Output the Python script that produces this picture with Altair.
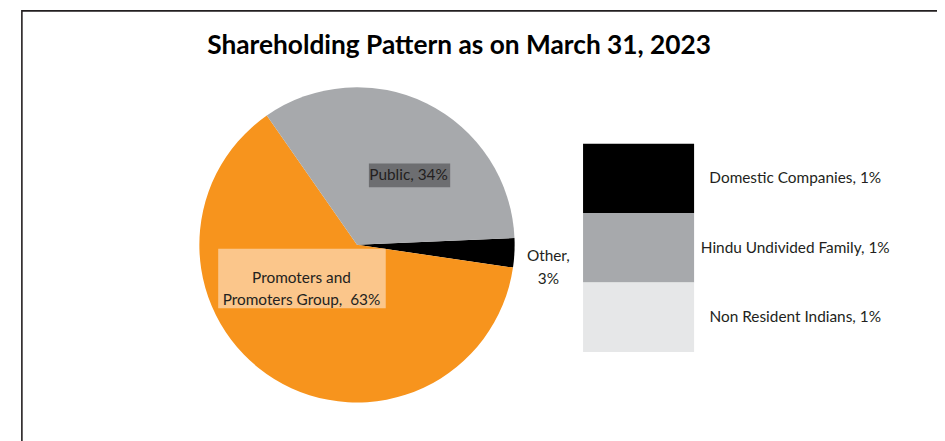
import math
import altair as alt
import pandas as pd

# ---------------- data ----------------
title_text = "Shareholding Pattern as on March 31, 2023"
pie_categories = ["Other", "Promoters and Promoters Group", "Public"]
pie_values = [3, 63, 34]
pie_colors = ["#000000", "#F7941D", "#A7A9AC"]

bar_categories = ["Domestic Companies", "Hindu Undivided Family", "Non Resident Indians"]
bar_values = [1, 1, 1]
bar_colors = ["#000000", "#A7A9AC", "#E6E7E8"]

# ---------------- layout helpers ----------------
W, H = 937, 433
MX, MY = 3, 8  # observed page offset


def px(x):
    return x - MX


def py(y):
    return y - MY


FONT = "Lato"
TXT = "#231F20"
LBL = 15.5

one = pd.DataFrame({"k": [0]})

# frame
frame = alt.Chart(one).mark_rect(fillOpacity=0, stroke="#231F20", strokeWidth=1.6).encode(
    x=alt.value(px(17)), x2=alt.value(W + 30), y=alt.value(1), y2=alt.value(H + 30)
)

# title
title = alt.Chart(pd.DataFrame({"t": [title_text]})).mark_text(
    font=FONT, fontSize=26.5, fontWeight="bold", color="#000000", align="center", baseline="middle"
).encode(x=alt.value(px(458)), y=alt.value(py(45)), text="t:N")

# pie
pie_df = pd.DataFrame({"category": pie_categories, "value": pie_values, "order": list(range(len(pie_values)))})
start = math.radians(87.5)
pie = alt.Chart(pie_df).mark_arc(radius=159).encode(
    theta=alt.Theta("value:Q", stack=True, scale=alt.Scale(range=[start, start + 2 * math.pi])),
    color=alt.Color("category:N", scale=alt.Scale(domain=pie_categories, range=pie_colors), legend=None),
    order=alt.Order("order:Q"),
    x=alt.value(px(355)),
    y=alt.value(py(245)),
)

# pie label boxes
public_box = alt.Chart(one).mark_rect(color="#6D6E71").encode(
    x=alt.value(px(367)), x2=alt.value(px(449)), y=alt.value(py(163)), y2=alt.value(py(187))
)
prom_box = alt.Chart(one).mark_rect(color="#FBC68B").encode(
    x=alt.value(px(215)), x2=alt.value(px(384)), y=alt.value(py(249)), y2=alt.value(py(309))
)

public_label = f"{pie_categories[2]}, {pie_values[2]}%"
prom_label = f"Promoters and\nPromoters Group, \u00a0{pie_values[1]}%"
other_label = f"{pie_categories[0]},\n{pie_values[0]}%"

lbl_public = alt.Chart(pd.DataFrame({"t": [public_label]})).mark_text(
    font=FONT, fontSize=LBL, color=TXT, align="center", baseline="middle"
).encode(x=alt.value(px(407)), y=alt.value(py(175)), text="t:N")

lbl_prom = alt.Chart(pd.DataFrame({"t": [prom_label]})).mark_text(
    font=FONT, fontSize=LBL, color=TXT, align="center", baseline="middle", lineBreak="\n", lineHeight=22
).encode(x=alt.value(px(299)), y=alt.value(py(279)), text="t:N")

lbl_other = alt.Chart(pd.DataFrame({"t": [other_label]})).mark_text(
    font=FONT, fontSize=LBL, color=TXT, align="center", baseline="middle", lineBreak="\n", lineHeight=24
).encode(x=alt.value(px(548)), y=alt.value(py(256)), text="t:N")

# stacked bar (bar-of-pie)
bar_df = pd.DataFrame({"category": bar_categories, "value": bar_values, "order": list(range(len(bar_values)))})
ysc = alt.Scale(domain=[0, sum(bar_values)], range=[py(143), py(353)])
bar_base = (
    alt.Chart(bar_df)
    .transform_stack(stack="value", groupby=[], as_=["y0", "y1"], sort=[alt.SortField("order", order="ascending")])
    .transform_calculate(mid="(datum.y0 + datum.y1) / 2", label="datum.category + ', ' + datum.value + '%'")
)
bar = bar_base.mark_rect().encode(
    x=alt.value(px(583)),
    x2=alt.value(px(695)),
    y=alt.Y("y0:Q", scale=ysc, axis=None),
    y2="y1:Q",
    color=alt.Color("category:N", scale=alt.Scale(domain=bar_categories, range=bar_colors), legend=None),
)
bar_text = bar_base.mark_text(font=FONT, fontSize=LBL, color=TXT, align="center", baseline="middle").encode(
    x=alt.value(px(797)),
    y=alt.Y("mid:Q", scale=ysc, axis=None),
    text="label:N",
)

chart = (
    alt.layer(frame, title, pie, public_box, prom_box, lbl_public, lbl_prom, lbl_other, bar, bar_text)
    .resolve_scale(color="independent", y="independent", x="independent", theta="independent")
    .properties(width=W, height=H, autosize="none", padding=0, background="white")
    .configure_view(stroke=None)
)

chart.save("out.html", embed_options={"renderer": "svg", "actions": False})
